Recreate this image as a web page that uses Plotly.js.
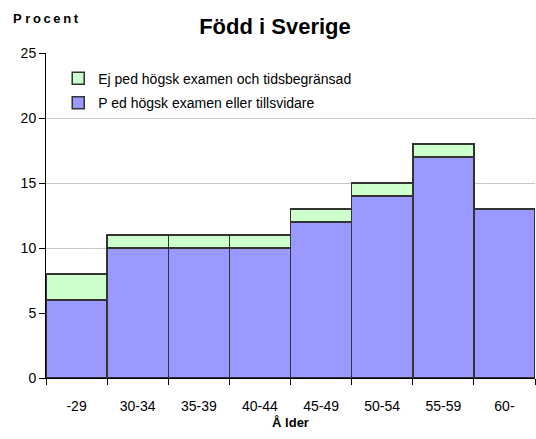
<!DOCTYPE html>
<html><head><meta charset="utf-8">
<script src="https://cdn.plot.ly/plotly-3.0.1.min.js"></script>
<style>html,body{margin:0;padding:0;background:#fff}</style>
</head><body>
<div id="chart" style="width:536px;height:439px"></div>
<script>
const categories = ["-29","30-34","35-39","40-44","45-49","50-54","55-59","60-"];
const pedValues = [6,10,10,10,12,14,17,13];
const ejPedValues = [2,1,1,1,1,1,1,0];
const seriesNames = ["P ed högsk examen eller tillsvidare","Ej ped högsk examen och tidsbegränsad"];

const traces = [
  {type:"bar", x:categories, y:pedValues, name:seriesNames[0], legend:"legend2",
   marker:{color:"#9999FF", line:{color:"#333333", width:1.5}}},
  {type:"bar", x:categories, y:ejPedValues, name:seriesNames[1], legend:"legend",
   marker:{color:"#CCFFCC", line:{color:"#333333", width:1.5}}}
];
const legendBase = {xanchor:"left", yanchor:"top", bgcolor:"rgba(0,0,0,0)",
          font:{size:14}, itemwidth:30};
const layout = {
  width:536, height:439,
  margin:{l:46, r:1, t:53, b:61},
  barmode:"stack", bargap:0,
  paper_bgcolor:"#fff", plot_bgcolor:"#fff",
  font:{family:"Liberation Sans, Arial, sans-serif", size:14, color:"#000"},
  title:{text:"<b>Född i Sverige</b>", font:{size:22}, x:0.513, xanchor:"center", y:0.94, yanchor:"middle"},
  showlegend:true,
  legend:Object.assign({x:0.025, y:0.97}, legendBase),
  legend2:Object.assign({x:0.025, y:0.895}, legendBase),
  xaxis:{type:"category", tickson:"boundaries", ticks:"outside", ticklen:6, tickcolor:"#000",
         showline:true, linecolor:"#000", linewidth:1, showgrid:false, ticklabelstandoff:15,
         tickfont:{size:14}, title:{text:"<b>Å lder</b>", font:{size:13}, standoff:5}},
  yaxis:{range:[0,25], dtick:5, ticks:"outside", ticklen:6, tickcolor:"#000",
         showline:true, linecolor:"#000", linewidth:1, showgrid:true, gridcolor:"#c8c8c8",
         zeroline:false, tickfont:{size:14}},
  annotations:[{text:"<b>P\u00A0r\u2009o\u2009c\u2009e\u2009n\u2009t</b>", xref:"paper", yref:"paper", x:-0.072, y:1.105,
                xanchor:"left", yanchor:"middle", showarrow:false, font:{size:13}}]
};
Plotly.newPlot("chart", traces, layout, {displayModeBar:false, staticPlot:true});
</script>
</body></html>
